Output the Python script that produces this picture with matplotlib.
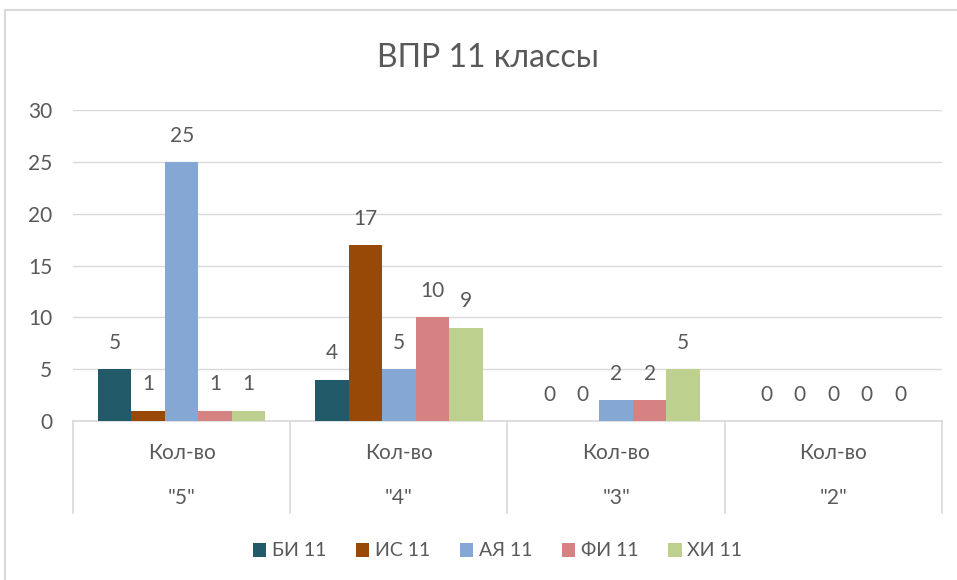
import numpy as np
import matplotlib.pyplot as plt
from matplotlib.patches import Rectangle
import matplotlib.transforms as mtransforms

plt.rcParams['font.family'] = ['Lato', 'DejaVu Sans']

groups = ['"5"', '"4"', '"3"', '"2"']
sub_label = 'Кол-во'
series = ['БИ 11', 'ИС 11', 'АЯ 11', 'ФИ 11', 'ХИ 11']
values = [
    [5, 4, 0, 0],    # БИ 11
    [1, 17, 0, 0],   # ИС 11
    [25, 5, 2, 0],   # АЯ 11
    [1, 10, 2, 0],   # ФИ 11
    [1, 9, 5, 0],    # ХИ 11
]
colors = ['#235A69', '#984807', '#85A7D3', '#D68283', '#BDD08D']
yticks = [0, 5, 10, 15, 20, 25, 30]

txt = '#595959'
grid = '#D9D9D9'

fig = plt.figure(figsize=(9.57, 5.8), dpi=100)
ax = fig.add_axes([0.0763, 0.274, 0.908, 0.536])

# chart border
fig.patches.append(Rectangle((0.005, -0.05), 1.1, 1.033, transform=fig.transFigure,
                             fill=False, edgecolor='#D9D9D9', lw=1.5))

x = np.arange(len(groups))
bw = 0.154
for i, (name, vals) in enumerate(zip(series, values)):
    pos = x - 2 * bw + i * bw
    ax.bar(pos, vals, width=bw, color=colors[i], label=name, zorder=3)
    for px, v in zip(pos, vals):
        ax.annotate(str(v), (px, v), xytext=(0, 19), textcoords='offset points',
                    ha='center', va='center', fontsize=15, color=txt)

ax.set_xlim(-0.5, len(groups) - 0.5)
ax.set_ylim(0, 30)
ax.set_yticks(yticks)
ax.tick_params(axis='y', length=0, labelsize=15, labelcolor=txt, pad=15)
ax.set_xticks([])
ax.grid(axis='y', color=grid, lw=1, zorder=0)
for s in ['top', 'right', 'left']:
    ax.spines[s].set_visible(False)
ax.spines['bottom'].set_color(grid)
ax.spines['bottom'].set_linewidth(1.2)

# multi-level category labels
trans = mtransforms.blended_transform_factory(ax.transData, ax.transAxes)
for b in np.arange(len(groups) + 1) - 0.5:
    ax.plot([b, b], [0, -0.297], color=grid, lw=1.2, transform=trans, clip_on=False)
for xi, g in zip(x, groups):
    ax.text(xi, -0.104, sub_label, transform=trans, ha='center', va='center',
            fontsize=15, color=txt)
    ax.text(xi, -0.248, g, transform=trans, ha='center', va='center',
            fontsize=15, color=txt)

fig.text(0.51, 0.90, 'ВПР 11 классы', ha='center', va='center', fontsize=23, color=txt)

fig.legend(loc='center', bbox_to_anchor=(0.52, 0.050), ncol=5, frameon=False,
           fontsize=14, labelcolor=txt, handlelength=0.7, handleheight=0.7,
           handletextpad=0.3, columnspacing=1.5)

fig.savefig('out.png', dpi=100)
